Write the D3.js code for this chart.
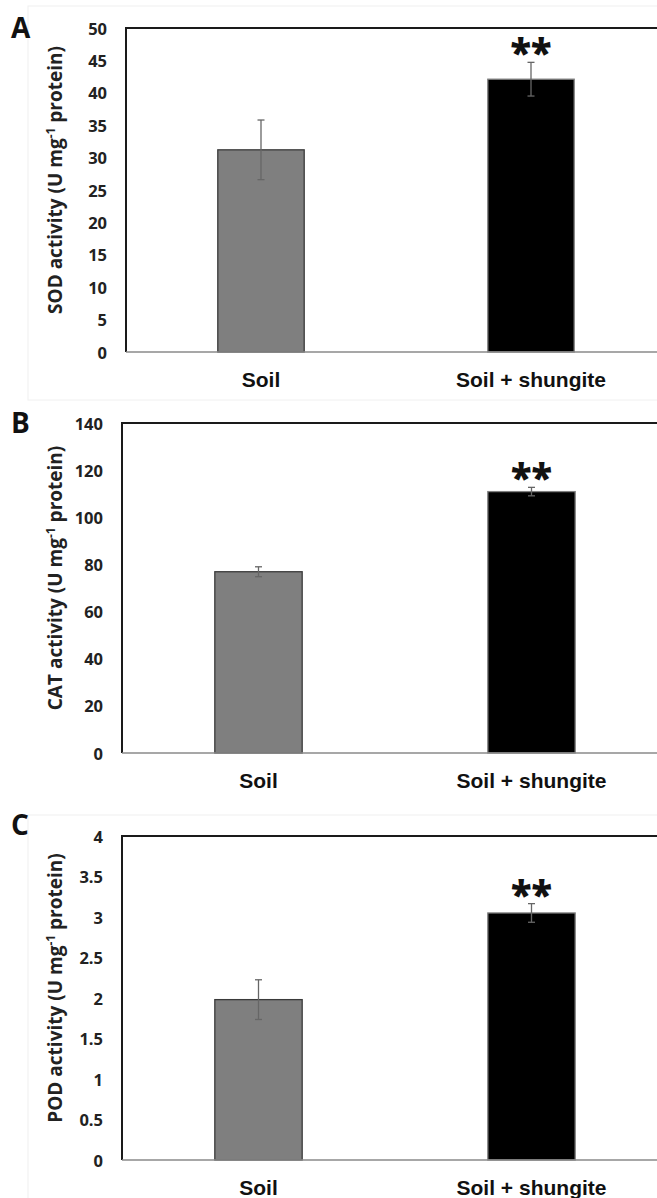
<!DOCTYPE html>
<html>
<head>
<meta charset="utf-8">
<script src="https://cdn.jsdelivr.net/npm/d3@7"></script>
<style>
	body { margin: 0; background: #fff; }
	.tick-label { font-family: "Open Sans", Lato, sans-serif; font-weight: bold; font-size: 16.5px; fill: #222; }
	.axis-title { font-family: "Open Sans", Lato, sans-serif; font-weight: bold; font-size: 19px; fill: #222; }
	.cat-label { font-family: "Liberation Sans", Arial, sans-serif; font-weight: bold; font-size: 21px; fill: #111; }
	.panel-letter { font-family: "Open Sans", Lato, sans-serif; font-weight: bold; font-size: 28px; fill: #111; }
	.signif { font-family: "Open Sans", Lato, sans-serif; font-weight: 800; font-size: 38px; fill: #111; }
</style>
</head>
<body>
<div id="chart"></div>
<script>
// Categories shared by all three panels
const categories = ['Soil', 'Soil + shungite'];

// SOD (panel A)
const sodMeans = [31.2, 42.1];
const sodErrors = [4.6, 2.6];
const sodTicks = [0, 5, 10, 15, 20, 25, 30, 35, 40, 45, 50];

// CAT (panel B)
const catMeans = [76.9, 110.9];
const catErrors = [2.1, 1.8];
const catTicks = [0, 20, 40, 60, 80, 100, 120, 140];

// POD (panel C)
const podMeans = [1.98, 3.05];
const podErrors = [0.245, 0.115];
const podTicks = [0, 0.5, 1, 1.5, 2, 2.5, 3, 3.5, 4];

// Significance markers above each bar
const signif = ['', '**'];

// Bar fills and outlines
const barFill = ['#7f7f7f', '#000000'];
const barStroke = ['#3a3a3a', '#808080'];

const width = 657;
const height = 1198;

// Layout for each panel (frame position in page coords)
const panels = [
	{ letter: 'A', enzyme: 'SOD', means: sodMeans, errs: sodErrors, ticks: sodTicks,
	  left: 126, top: 28, bottom: 352, plotW: 540, box: [28, 6, 640, 394] },
	{ letter: 'B', enzyme: 'CAT', means: catMeans, errs: catErrors, ticks: catTicks,
	  left: 122, top: 423, bottom: 753, plotW: 546, box: null },
	{ letter: 'C', enzyme: 'POD', means: podMeans, errs: podErrors, ticks: podTicks,
	  left: 122, top: 836, bottom: 1160, plotW: 546, box: [28, 815, 640, 390] }
];

const svg = d3.select('#chart')
	.append('svg')
	.attr('width', width)
	.attr('height', height);

const drawPanel = (p) => {
	const g = svg.append('g').attr('class', `panel-${p.letter}`);

	// faint chart-area border (Excel style)
	if (p.box) {
		g.append('rect')
			.attr('x', p.box[0]).attr('y', p.box[1])
			.attr('width', p.box[2]).attr('height', p.box[3])
			.attr('fill', 'none')
			.attr('stroke', '#f0f0f0')
			.attr('stroke-width', 1);
	}

	const xScale = d3.scaleBand()
		.domain(categories)
		.range([p.left, p.left + p.plotW])
		.paddingInner(0.68)
		.paddingOuter(0.34);

	const yScale = d3.scaleLinear()
		.domain([0, d3.max(p.ticks)])
		.range([p.bottom, p.top]);

	// bars
	g.selectAll('rect.bar')
		.data(p.means)
		.enter()
		.append('rect')
		.attr('class', 'bar')
		.attr('x', (d, i) => xScale(categories[i]))
		.attr('y', d => yScale(d))
		.attr('width', xScale.bandwidth())
		.attr('height', d => yScale(0) - yScale(d))
		.attr('fill', (d, i) => barFill[i])
		.attr('stroke', (d, i) => barStroke[i])
		.attr('stroke-width', 1.3);

	// error bars
	const cx = (i) => xScale(categories[i]) + xScale.bandwidth() / 2;
	const err = g.selectAll('g.err')
		.data(p.means)
		.enter()
		.append('g')
		.attr('class', 'err')
		.attr('stroke', '#666')
		.attr('stroke-width', 1.3);
	err.append('line')
		.attr('x1', (d, i) => cx(i)).attr('x2', (d, i) => cx(i))
		.attr('y1', (d, i) => yScale(d + p.errs[i]))
		.attr('y2', (d, i) => yScale(d - p.errs[i]));
	err.append('line')
		.attr('x1', (d, i) => cx(i) - 3.5).attr('x2', (d, i) => cx(i) + 3.5)
		.attr('y1', (d, i) => yScale(d + p.errs[i]))
		.attr('y2', (d, i) => yScale(d + p.errs[i]));
	err.append('line')
		.attr('x1', (d, i) => cx(i) - 3.5).attr('x2', (d, i) => cx(i) + 3.5)
		.attr('y1', (d, i) => yScale(d - p.errs[i]))
		.attr('y2', (d, i) => yScale(d - p.errs[i]));

	// significance stars
	g.selectAll('text.signif')
		.data(p.means)
		.enter()
		.append('text')
		.attr('class', 'signif')
		.attr('text-anchor', 'middle')
		.attr('x', (d, i) => cx(i))
		.attr('y', (d, i) => yScale(d + p.errs[i]) + 5)
		.text((d, i) => signif[i]);

	// frame: left + top dark, bottom gray axis
	g.append('line')
		.attr('x1', p.left).attr('x2', p.left)
		.attr('y1', p.top).attr('y2', p.bottom)
		.attr('stroke', '#1a1a1a').attr('stroke-width', 2);
	g.append('line')
		.attr('x1', p.left - 1).attr('x2', width + 5)
		.attr('y1', p.top).attr('y2', p.top)
		.attr('stroke', '#1a1a1a').attr('stroke-width', 2);
	g.append('line')
		.attr('x1', p.left).attr('x2', width + 5)
		.attr('y1', p.bottom).attr('y2', p.bottom)
		.attr('stroke', '#8a8a8a').attr('stroke-width', 1.5);

	// y tick labels
	g.selectAll('text.tick-label')
		.data(p.ticks)
		.enter()
		.append('text')
		.attr('class', 'tick-label')
		.attr('text-anchor', 'end')
		.attr('dominant-baseline', 'central')
		.attr('x', p.left - 19)
		.attr('y', d => yScale(d))
		.text(d => d3.format('~g')(d));

	// category labels
	g.selectAll('text.cat-label')
		.data(categories)
		.enter()
		.append('text')
		.attr('class', 'cat-label')
		.attr('text-anchor', 'middle')
		.attr('x', d => xScale(d) + xScale.bandwidth() / 2)
		.attr('y', p.bottom + 35)
		.text(d => d);

	// y axis title with superscript
	const midY = (p.top + p.bottom) / 2 - 10;
	const title = g.append('text')
		.attr('class', 'axis-title')
		.attr('text-anchor', 'middle')
		.attr('transform', `translate(62, ${midY}) rotate(-90)`);
	title.append('tspan').text(`${p.enzyme} activity (U mg`);
	title.append('tspan').attr('font-size', '12px').attr('dy', -7).text('-1');
	title.append('tspan').attr('dy', 7).text(' protein)');

	// panel letter
	g.append('text')
		.attr('class', 'panel-letter')
		.attr('x', 11)
		.attr('y', p.top + 10 - (p.letter === 'C' ? 11 : 0))
		.text(p.letter);
};

panels.forEach(drawPanel);
</script>
</body>
</html>
